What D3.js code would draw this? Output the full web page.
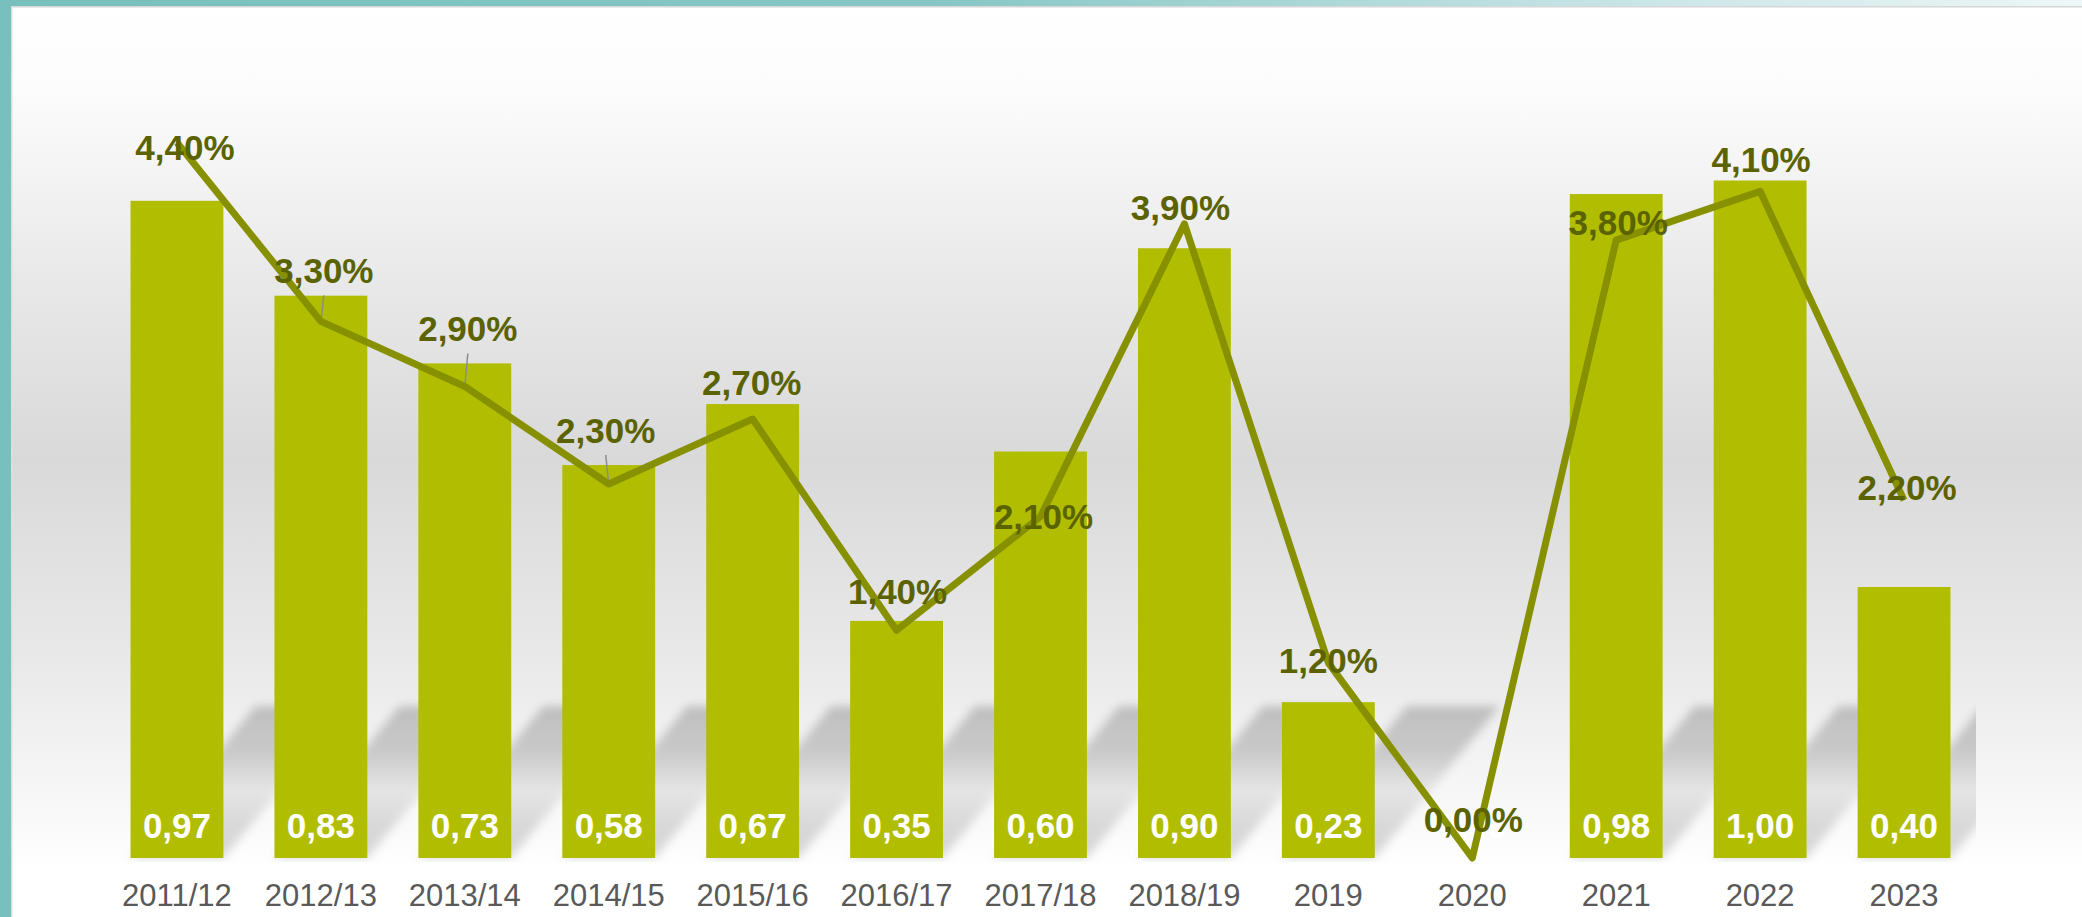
<!DOCTYPE html>
<html lang="de">
<head>
    <meta charset="UTF-8">
    <title>Entwicklung 2011/12 - 2023</title>
    <script src="https://d3js.org/d3.v7.min.js"></script>
    <style>
        body {
            margin: 0;
            padding: 0;
            background: #fff;
        }

        #chart {
            display: block;
        }

        text {
            font-family: "Liberation Sans", Arial, sans-serif;
        }
    </style>
</head>
<body>
<svg id="chart" width="2082" height="917"></svg>

<script>
    // categories (x axis)
    var categories = ["2011/12", "2012/13", "2013/14", "2014/15", "2015/16", "2016/17", "2017/18",
        "2018/19", "2019", "2020", "2021", "2022", "2023"];

    // bar series (index values)
    var barValues = [0.97, 0.83, 0.73, 0.58, 0.67, 0.35, 0.60, 0.90, 0.23, 0.00, 0.98, 1.00, 0.40];

    // line series (percent)
    var pctValues = [4.4, 3.3, 2.9, 2.3, 2.7, 1.4, 2.1, 3.9, 1.2, 0.0, 3.8, 4.1, 2.2];

    // axis ranges
    var barMax = 1.2;
    var pctMax = 5;

    // where each percent label sits relative to its point [dx, dy to baseline]
    var pctLabelPos = [[8, 17], [3, -38], [3, -45], [-3, -41], [-1, -24], [1, -26], [3, 12],
        [-4, -4], [0, 10], [1, -26], [2, -5], [1, -19], [3, 0]];
    var withLeader = [false, true, true, true, false, false, false, false, false, false, false, false, false];

    var svg = d3.select("#chart"),
        width = +svg.attr("width"),
        height = +svg.attr("height");

    var plotLeft = 105, plotRight = 1976, plotTop = 45, plotBottom = 858;

    var fmt = d3.formatLocale({decimal: ",", thousands: ".", grouping: [3], currency: ["", "€"]});
    var fmtBar = fmt.format(".2f");
    var fmtPct = function(v) { return fmt.format(".2f")(v) + "%"; };

    var defs = svg.append("defs");

    // background gradient of the chart area
    var bg = defs.append("linearGradient")
        .attr("id", "bg").attr("x1", 0).attr("y1", 0).attr("x2", 0).attr("y2", 1);
    [[0, "#ffffff"], [0.1, "#fcfcfc"], [0.3, "#e9e9e9"], [0.5, "#d9d9d9"], [0.72, "#e9e9e9"],
        [0.88, "#f8f8f8"], [0.95, "#ffffff"], [1, "#ffffff"]].forEach(function(s) {
        bg.append("stop").attr("offset", s[0]).attr("stop-color", s[1]);
    });

    var topBand = defs.append("linearGradient")
        .attr("id", "topband").attr("x1", 0).attr("y1", 0).attr("x2", 1).attr("y2", 0);
    [[0, "#78c0bd"], [0.45, "#86c7c5"], [0.75, "#c3e2e3"], [1, "#eef7f7"]].forEach(function(s) {
        topBand.append("stop").attr("offset", s[0]).attr("stop-color", s[1]);
    });

    // shadow gradient (dark top, lighter middle, darker again near the base)
    var sg = defs.append("linearGradient")
        .attr("id", "shadowGrad").attr("x1", 0).attr("y1", 0).attr("x2", 0).attr("y2", 1);
    [[0, 0.2], [0.3, 0.17], [0.55, 0.07], [0.8, 0.14], [1, 0.15]].forEach(function(s) {
        sg.append("stop").attr("offset", s[0]).attr("stop-color", "#000").attr("stop-opacity", s[1]);
    });

    defs.append("filter").attr("id", "blur")
        .attr("x", "-20%").attr("y", "-20%").attr("width", "140%").attr("height", "140%")
        .append("feGaussianBlur").attr("stdDeviation", 5);

    defs.append("clipPath").attr("id", "plotClip")
        .append("rect")
        .attr("x", plotLeft).attr("y", plotTop)
        .attr("width", plotRight - plotLeft).attr("height", plotBottom - plotTop + 4);

    // frame
    svg.append("rect").attr("x", 0).attr("y", 0).attr("width", width).attr("height", height).attr("fill", "url(#bg)");
    svg.append("rect").attr("x", 0).attr("y", 0).attr("width", width).attr("height", 6).attr("fill", "url(#topband)");
    svg.append("rect").attr("x", 11).attr("y", 6).attr("width", width - 11).attr("height", 1.5).attr("fill", "#d6d6d6");
    svg.append("rect").attr("x", 0).attr("y", 0).attr("width", 11).attr("height", height).attr("fill", "#78c0bd");
    svg.append("rect").attr("x", 11).attr("y", 6).attr("width", 1.5).attr("height", height).attr("fill", "#dedede");

    // scales
    var x = d3.scaleBand()
        .domain(categories)
        .range([plotLeft, plotRight])
        .padding(0);

    var barW = x.bandwidth() / 1.55;

    var yBar = d3.scaleLinear().domain([0, barMax]).range([plotBottom, plotTop]);
    var yPct = d3.scaleLinear().domain([0, pctMax]).range([plotBottom, plotTop]);

    var cx = function(i) { return x(categories[i]) + x.bandwidth() / 2; };

    // diagonal shadows behind the bars
    var shH = 152, shS = 125;
    svg.append("g")
        .attr("clip-path", "url(#plotClip)")
        .selectAll("polygon")
        .data(barValues.map(function(d, i) { return {v: d, i: i}; }).filter(function(d) { return d.v > 0; }))
        .enter().append("polygon")
        .attr("points", function(d) {
            var x0 = cx(d.i) - barW / 2, x1 = cx(d.i) + barW / 2, yb = yBar(0);
            return [[x0, yb], [x1, yb], [x1 + shS, yb - shH], [x0 + shS, yb - shH]].join(" ");
        })
        .attr("fill", "url(#shadowGrad)")
        .attr("filter", "url(#blur)");

    // bars
    svg.append("g")
        .selectAll("rect")
        .data(barValues)
        .enter().append("rect")
        .attr("x", function(d, i) { return cx(i) - barW / 2; })
        .attr("y", function(d) { return yBar(d); })
        .attr("width", barW)
        .attr("height", function(d) { return yBar(0) - yBar(d); })
        .attr("fill", "#b1bd00");

    // bar value labels
    svg.append("g")
        .selectAll("text")
        .data(barValues)
        .enter().append("text")
        .attr("x", function(d, i) { return cx(i); })
        .attr("y", yBar(0) - 20)
        .attr("text-anchor", "middle")
        .attr("fill", "#ffffff")
        .style("font-size", "35px")
        .style("font-weight", "bold")
        .text(function(d) { return fmtBar(d); });

    // x axis labels
    var xAxis = svg.append("g")
        .attr("transform", "translate(0," + plotBottom + ")")
        .call(d3.axisBottom(x).tickSize(0).tickPadding(26));
    xAxis.select(".domain").remove();
    xAxis.selectAll("text")
        .attr("fill", "#595959")
        .style("font-size", "31px")
        .style("font-family", "'Liberation Sans', Arial, sans-serif");

    // leader lines
    svg.append("g")
        .selectAll("line")
        .data(pctValues.map(function(v, i) { return i; }).filter(function(i) { return withLeader[i]; }))
        .enter().append("line")
        .attr("x1", function(i) { return cx(i) + pctLabelPos[i][0]; })
        .attr("y1", function(i) { return yPct(pctValues[i]) + pctLabelPos[i][1] + 12; })
        .attr("x2", function(i) { return cx(i); })
        .attr("y2", function(i) { return yPct(pctValues[i]); })
        .attr("stroke", "#8c8c8c")
        .attr("stroke-width", 1.5);

    // percent line
    var line = d3.line()
        .x(function(d, i) { return cx(i); })
        .y(function(d) { return yPct(d); });

    svg.append("path")
        .datum(pctValues)
        .attr("d", line)
        .attr("fill", "none")
        .attr("stroke", "#879100")
        .attr("stroke-width", 7)
        .attr("stroke-linejoin", "round");

    // percent labels
    svg.append("g")
        .selectAll("text")
        .data(pctValues)
        .enter().append("text")
        .attr("x", function(d, i) { return cx(i) + pctLabelPos[i][0]; })
        .attr("y", function(d, i) { return yPct(d) + pctLabelPos[i][1]; })
        .attr("text-anchor", "middle")
        .attr("fill", "#5b6300")
        .style("font-size", "35px")
        .style("font-weight", "bold")
        .text(function(d) { return fmtPct(d); });
</script>
</body>
</html>
